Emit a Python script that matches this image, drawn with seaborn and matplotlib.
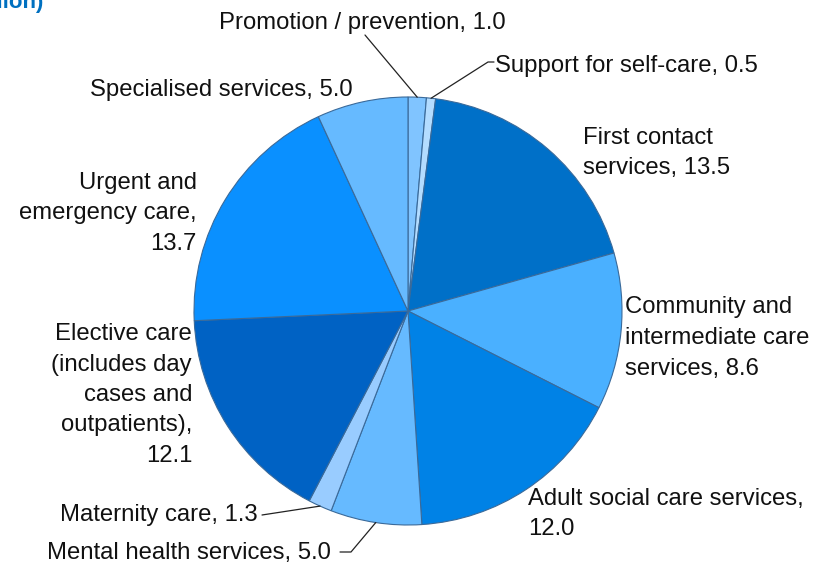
import numpy as np
import matplotlib
matplotlib.use("Agg")
import matplotlib.pyplot as plt
import seaborn as sns

# Spending by area of care (values from the chart)
categories = [
    "Promotion / prevention",
    "Support for self-care",
    "First contact\nservices",
    "Community and\nintermediate care\nservices",
    "Adult social care services,\n",
    "Mental health services",
    "Maternity care",
    "Elective care\n(includes day\ncases and\noutpatients),\n",
    "Urgent and\nemergency care,\n",
    "Specialised services",
]
values = [1.0, 0.5, 13.5, 8.6, 12.0, 5.0, 1.3, 12.1, 13.7, 5.0]
colors = [
    "#80c4ff", "#b3dcff", "#0070c8", "#4ab0ff", "#0082e6",
    "#66baff", "#99ccff", "#0062c4", "#0a90ff", "#66baff",
]

sns.set_theme(style="white")
plt.rcParams["font.family"] = ["Liberation Sans", "DejaVu Sans"]

fig = plt.figure(figsize=(8.19, 5.67), dpi=100)
ax = fig.add_axes([194 / 819, 42 / 567, 428 / 819, 428 / 567])

wedges, _ = ax.pie(
    values, colors=colors, startangle=90, counterclock=False, radius=1,
    wedgeprops=dict(edgecolor="#3a6a9a", linewidth=0.8),
)
ax.set_xlim(-1, 1)
ax.set_ylim(-1, 1)
ax.set_aspect("equal")
ax.axis("off")


def px(x, y):
    # pixel position in the picture -> pie data coords
    return (x - 408) / 214, (311 - y) / 214


def edge_point(i, r=1.0):
    w = wedges[i]
    a = np.deg2rad((w.theta1 + w.theta2) / 2)
    return r * np.cos(a), r * np.sin(a)


def label(i):
    if categories[i].endswith("\n"):
        return categories[i] + f"{values[i]:.1f}"
    return categories[i] + f", {values[i]:.1f}"


fs = 17.2
ls = 1.5
# label placement: (index, x px, y px, ha)
places = [
    (0, 362, 23, "center"),
    (1, 495, 66, "left"),
    (2, 583, 153, "left"),
    (3, 625, 338, "left"),
    (4, 528, 514, "left"),
    (5, 331, 553, "right"),
    (6, 258, 515, "right"),
    (7, 192, 395, "right"),
    (8, 197, 213, "right"),
    (9, 353, 90, "right"),
]
for i, x, y, ha in places:
    tx, ty = px(x, y)
    ax.text(tx, ty, label(i), ha=ha, va="center", fontsize=fs, linespacing=ls,
            color="#111111", clip_on=False)

# leader lines
lk = dict(color="#222222", lw=0.9, clip_on=False)
ex, ey = edge_point(0)
p = px(365, 35)
ax.plot([ex, p[0]], [ey, p[1]], **lk)

ex, ey = edge_point(1)
p1, p2 = px(488, 62), px(494, 62)
ax.plot([ex, p1[0], p2[0]], [ey, p1[1], p2[1]], **lk)

ex, ey = edge_point(5)
p1, p2 = px(351, 552), px(340, 552)
ax.plot([ex, p1[0], p2[0]], [ey, p1[1], p2[1]], **lk)

ex, ey = edge_point(6)
p1 = px(262, 515)
ax.plot([ex, p1[0]], [ey, p1[1]], **lk)

fig.text(43 / 819, 1 - 8 / 567, "(£ billion)", ha="right", va="baseline",
         fontsize=16, fontweight="bold", color="#0070c0")

fig.savefig("out.png", dpi=100)
